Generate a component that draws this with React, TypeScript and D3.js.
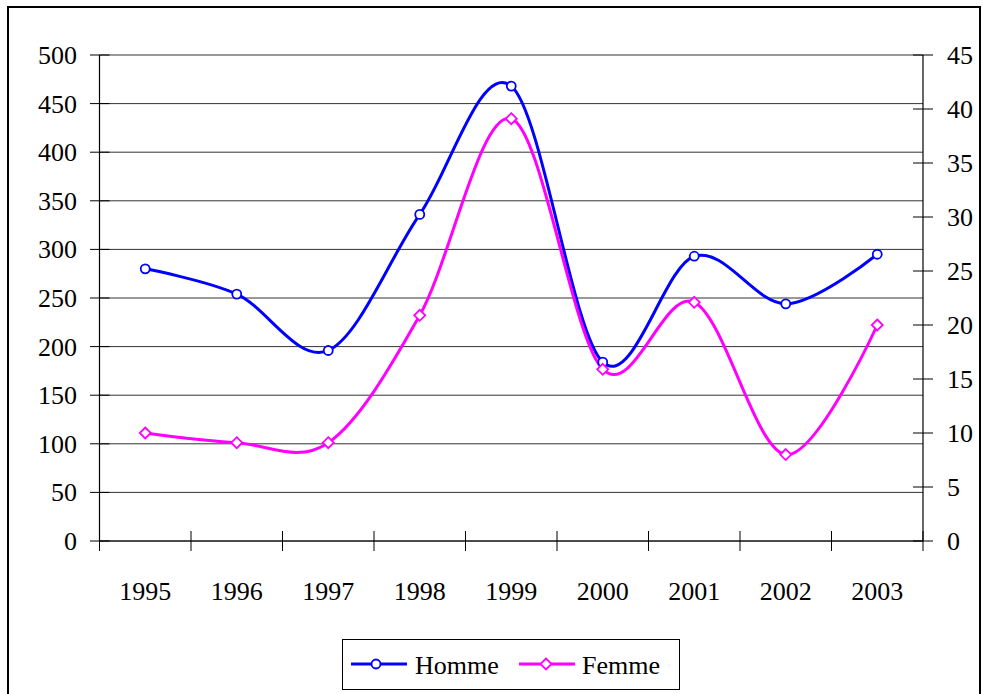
import React from "react";
import * as d3 from "d3";

const years = ["1995", "1996", "1997", "1998", "1999", "2000", "2001", "2002", "2003"];
const homme = [280, 254, 196, 336, 468, 184, 293, 244, 295];
const femme = [10.0, 9.1, 9.1, 20.9, 39.1, 15.9, 22.1, 8.0, 20.0];
const leftTicks = [0, 50, 100, 150, 200, 250, 300, 350, 400, 450, 500];
const rightTicks = [0, 5, 10, 15, 20, 25, 30, 35, 40, 45];

const W = 988;
const H = 694;
const BLUE = "#0000FF";
const MAGENTA = "#FF00FF";
const ts: React.CSSProperties = { fontFamily: '"Times New Roman"', fontSize: "26px" };

export default function App() {
  const x = d3.scaleBand<string>().domain(years).range([99.5, 923]).paddingInner(0).paddingOuter(0);
  const yL = d3.scaleLinear().domain([0, 500]).range([541, 55]);
  const yR = d3.scaleLinear().domain([0, 45]).range([541, 55]);
  const cx = (y: string) => (x(y) as number) + x.bandwidth() / 2;
  const curve = d3.curveCatmullRom.alpha(0);
  const lineH = d3.line<number>().x((_, i) => cx(years[i])).y((d) => yL(d)).curve(curve);
  const lineF = d3.line<number>().x((_, i) => cx(years[i])).y((d) => yR(d)).curve(curve);
  const [x0, x1] = x.range();
  const diamond = (px: number, py: number, r: number) =>
    `M${px},${py - r}L${px + r},${py}L${px},${py + r}L${px - r},${py}Z`;

  return (
    <svg width={W} height={H} style={{ position: "absolute", left: 0, top: 0, background: "#fff" }}>
      <rect x={0} y={0} width={W} height={H} fill="#fff" />
      <rect x={8} y={7} width={972} height={700} fill="none" stroke="#000" strokeWidth={2} />
      {leftTicks.map((t) => (
        <line key={"g" + t} x1={x0} x2={x1} y1={yL(t)} y2={yL(t)} stroke="#333" strokeWidth={1} />
      ))}
      <line x1={x0} x2={x0} y1={yL(0)} y2={yL(500)} stroke="#000" strokeWidth={1.2} />
      {leftTicks.map((t) => (
        <g key={"l" + t}>
          <line x1={x0 - 9.5} x2={x0 + 10} y1={yL(t)} y2={yL(t)} stroke="#000" strokeWidth={1} />
          <text x={77} y={yL(t) + 9} textAnchor="end" style={ts}>{String(t)}</text>
        </g>
      ))}
      <line x1={x1} x2={x1} y1={yR(0)} y2={yR(45)} stroke="#000" strokeWidth={1.2} />
      {rightTicks.map((t) => (
        <g key={"r" + t}>
          <line x1={x1 - 10} x2={x1 + 10} y1={yR(t)} y2={yR(t)} stroke="#000" strokeWidth={1} />
          <text x={947} y={yR(t) + 9} textAnchor="start" style={ts}>{String(t)}</text>
        </g>
      ))}
      <line x1={x0} x2={x1} y1={541} y2={541} stroke="#000" strokeWidth={1.2} />
      {years.map((y) => (
        <g key={"x" + y}>
          <line x1={x(y) as number} x2={x(y) as number} y1={531} y2={551} stroke="#000" strokeWidth={1} />
          <text x={cx(y)} y={600} textAnchor="middle" style={ts}>{y}</text>
        </g>
      ))}
      <line x1={x1} x2={x1} y1={531} y2={551} stroke="#000" strokeWidth={1} />
      <path d={lineH(homme) || ""} fill="none" stroke={BLUE} strokeWidth={3} />
      <path d={lineF(femme) || ""} fill="none" stroke={MAGENTA} strokeWidth={3} />
      {homme.map((v, i) => (
        <circle key={"ch" + i} cx={cx(years[i])} cy={yL(v)} r={4.5} fill="#fff" stroke={BLUE} strokeWidth={1.8} />
      ))}
      {femme.map((v, i) => (
        <path key={"df" + i} d={diamond(cx(years[i]), yR(v), 5.5)} fill="#fff" stroke={MAGENTA} strokeWidth={1.8} />
      ))}
      <rect x={342.5} y={639.5} width={337} height={50} fill="#fff" stroke="#000" strokeWidth={1} />
      <line x1={351} x2={407} y1={664} y2={664} stroke={BLUE} strokeWidth={3} />
      <circle cx={376} cy={664} r={4.5} fill="#fff" stroke={BLUE} strokeWidth={1.8} />
      <text x={415} y={674} style={ts}>Homme</text>
      <line x1={519} x2={575} y1={664} y2={664} stroke={MAGENTA} strokeWidth={3} />
      <path d={diamond(546, 664, 5.5)} fill="#fff" stroke={MAGENTA} strokeWidth={1.8} />
      <text x={582} y={674} style={ts}>Femme</text>
    </svg>
  );
}
